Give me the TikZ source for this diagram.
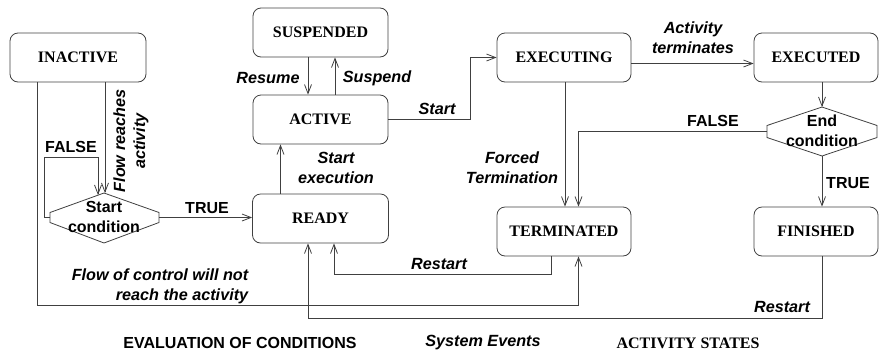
\documentclass[tikz,border=0pt]{standalone}
\usepackage{fontspec}
\setmainfont{Liberation Serif}
\setsansfont{Liberation Sans}
\usetikzlibrary{arrows.meta}
\begin{document}
\begin{tikzpicture}[x=1pt,y=-1pt,
  line width=0.8pt,
  every path/.style={draw=black!75},
  state/.style={draw=black!75, rounded corners=8pt, minimum height=49pt, minimum width=135pt, inner sep=0pt,
    font=\rmfamily\bfseries\fontsize{16}{19}\selectfont},
  lbl/.style={font=\sffamily\bfseries\itshape\fontsize{16.2}{20}\selectfont, inner sep=0pt, align=center},
  cond/.style={font=\sffamily\bfseries\fontsize{16}{20}\selectfont, inner sep=0pt, align=center},
  arr/.style={-{Straight Barb[length=9pt,width=7pt]}}
]
\path[draw=none] (0,0) rectangle (880,354);

% states
\node[state, minimum width=136pt] (inactive) at (78,57.5) {INACTIVE};
\node[state] (suspended) at (320.5,32.5) {SUSPENDED};
\node[state] (active) at (320.5,119.5) {ACTIVE};
\node[state, minimum width=136pt] (ready) at (320.5,218.5) {READY};
\node[state, minimum width=134pt] (executing) at (564,57.5) {EXECUTING};
\node[state, minimum width=124pt] (executed) at (816,57.5) {EXECUTED};
\node[state, minimum width=134pt] (terminated) at (564,231.5) {TERMINATED};
\node[state, minimum width=124pt] (finished) at (816,231.5) {FINISHED};

% start condition
\coordinate (scT) at (104,193);
\coordinate (scL) at (50,217.5);
\coordinate (scR) at (159,217.5);
\coordinate (scB) at (104,243);
\draw (scT) -- (50,212.5) -- (50,222.5) -- (scB) -- (159,222.5) -- (159,212.5) -- cycle;
\node[cond] (sc) at (104,217) {Start\\condition};

% end condition
\coordinate (ecT) at (822,107);
\coordinate (ecL) at (767,131.5);
\coordinate (ecR) at (877,131.5);
\coordinate (ecB) at (822,156);
\draw (ecT) -- (767,125.5) -- (767,137.5) -- (ecB) -- (877,137.5) -- (877,125.5) -- cycle;
\node[cond] (ec) at (822,130.5) {End\\condition};

% connectors
\draw[arr] ([xshift=27pt]inactive.south) -- ([xshift=27pt]inactive.south |- scT);
\coordinate (fl) at (98,195);
\draw[arr] (scL) -- ++(-6,0) |- (98,157) -- (fl);
\draw[arr] (scR) -- (scR -| ready.west);
\draw[arr] ([xshift=-40pt]ready.north) -- ([xshift=-40pt]active.south);
\draw[arr] ([xshift=-12.5pt]suspended.south) -- ([xshift=-12.5pt]active.north);
\draw[arr] ([xshift=14.5pt]active.north) -- ([xshift=14.5pt]suspended.south);
\draw[arr] (active.east) -- ++(82,0) |- (executing.west);
\draw[arr] ([yshift=-6pt]executing.east) -- ([yshift=-6pt]executed.west);
\draw[arr] ([xshift=6pt]executed.south) -- (ecT);
\draw[arr] (ecB) -- ([xshift=6pt]finished.north);
\draw[arr] (ecL) -| ([xshift=14.5pt]terminated.north);
\draw[arr] ([xshift=1pt]executing.south) -- ([xshift=1pt]terminated.north);
\draw[arr] ([xshift=-41pt]inactive.south) -- ++(0,223) -| ([xshift=14.5pt]terminated.south);
\draw[arr] ([xshift=-13pt]terminated.south) -- ++(0,18) -| ([xshift=13.5pt]ready.south);
\draw[arr] ([xshift=6pt]finished.south) -- ++(0,62) -| ([xshift=-12.5pt]ready.south);

% labels
\node[lbl, rotate=90] (l1) at (131,141) {Flow reaches\\activity};
\node[cond] (l2) at (71,147) {FALSE};
\node[cond] (l3) at (207,208) {TRUE};
\node[lbl] (l4) at (268,78) {Resume};
\node[lbl] (l5) at (377,78) {Suspend};
\node[lbl] (l6) at (336,168) {Start\\execution};
\node[lbl] (l7) at (437,109) {Start};
\node[lbl] (l8) at (693,38) {Activity\\terminates};
\node[cond] (l9) at (713,121) {FALSE};
\node[cond] (l10) at (848,183) {TRUE};
\node[lbl] (l11) at (512,167.5) {Forced\\Termination};
\node[lbl, align=right] (l12) at (160,286) {Flow of control will not\\reach the activity};
\node[lbl] (l13) at (439,264) {Restart};
\node[lbl] (l14) at (782,307) {Restart};

% captions
\node[cond] (c1) at (240,343) {EVALUATION OF CONDITIONS};
\node[lbl] (c2) at (483,343) {System Events};
\node[font=\rmfamily\bfseries\fontsize{16}{19}\selectfont, inner sep=0pt] (c3) at (688,343) {ACTIVITY STATES};
\end{tikzpicture}
\end{document}
